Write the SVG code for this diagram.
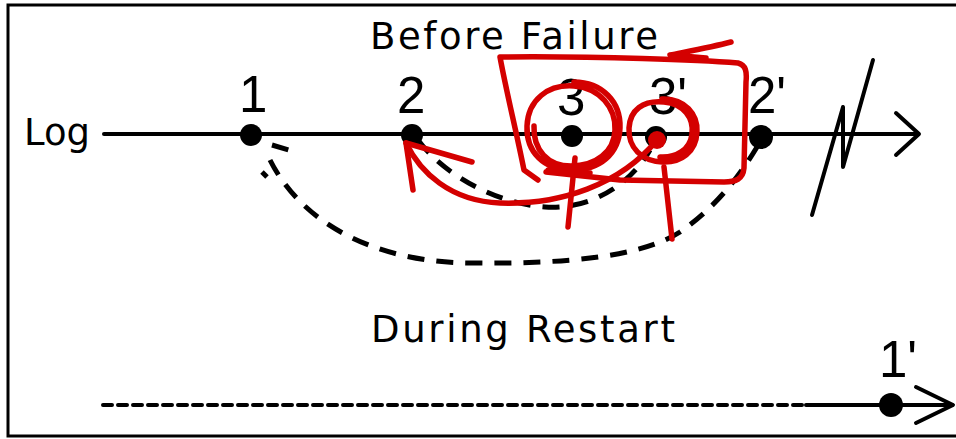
<svg xmlns="http://www.w3.org/2000/svg" width="956" height="439" viewBox="0 0 956 439">
<style>
.t{font-family:"Liberation Sans","DejaVu Sans",Arial,sans-serif;fill:#000}
.lbl{font-family:"DejaVu Sans","Liberation Sans",sans-serif;font-size:37px}
.num{font-size:51px}
.ax{stroke:#000;stroke-width:4;fill:none;stroke-linecap:round;stroke-linejoin:round}
.dash{stroke:#000;stroke-width:5;fill:none;stroke-dasharray:17 12;stroke-linecap:butt}
.red{stroke:#d40000;stroke-width:5.5;fill:none;stroke-linecap:round;stroke-linejoin:round}
.dot{fill:#000}
</style>
<rect x="0" y="0" width="956" height="439" fill="#fff"/>
<rect x="8" y="5" width="960" height="431" fill="none" stroke="#000" stroke-width="3"/>

<g id="titles">
<text class="t lbl" x="370" y="49" textLength="288" lengthAdjust="spacing">Before Failure</text>
<text class="t lbl" x="371" y="342" textLength="304" lengthAdjust="spacing">During Restart</text>
<text class="t lbl" x="24" y="145" font-size="41" textLength="66" lengthAdjust="spacingAndGlyphs">Log</text>
</g>

<g id="connectors">
<line class="ax" x1="104" y1="134" x2="918" y2="134"/>
<polyline class="ax" points="896,113 919,134 896,155"/>
<polyline class="ax" points="812,215 843,107 843,167 873,60" stroke-width="3.5"/>
<path class="dash" d="M270,160 C 300,220 370,262 470,263 C 560,264 640,258 680,232 C 718,206 742,172 757,147"/>
<line class="dash" x1="272" y1="145" x2="289" y2="150" stroke-dasharray="none"/>
<line class="dash" x1="262" y1="172" x2="267" y2="177" stroke-dasharray="none"/>
<path class="dash" d="M418,140 C 440,170 490,203 545,207 C 590,210 630,185 650,150" stroke-dasharray="15 11"/>
<line class="ax" x1="103" y1="405" x2="806" y2="405" stroke-width="3.5" stroke-dasharray="9 6" stroke-linecap="butt"/>
<line class="ax" x1="806" y1="405" x2="952" y2="405"/>
<polyline class="ax" points="916,387 953,405 916,423"/>
</g>

<g id="n1"><circle class="dot" cx="251" cy="135" r="11"/><text class="t num" x="239" y="112">1</text></g>
<g id="n2"><circle class="dot" cx="412" cy="135" r="11"/><text class="t num" x="397" y="113">2</text></g>
<g id="n3"><circle class="dot" cx="572" cy="136" r="11"/><text class="t num" x="557" y="115">3</text></g>
<g id="n3p"><circle class="dot" cx="656" cy="137" r="11"/><text class="t num" x="649" y="114">3'</text></g>
<g id="n2p"><circle class="dot" cx="761" cy="137" r="12"/><text class="t num" x="748" y="113">2'</text></g>
<g id="n1p"><circle class="dot" cx="891" cy="405" r="12"/><text class="t num" x="879" y="377">1'</text></g>

<g id="annotations">
<path class="red" d="M538,180 L524,170 C 516,130 506,90 500,57 C 600,56 700,60 738,63 C 746,65 747,72 746,82 L 744,168 C 743,179 736,182 724,182 L 620,180 L 546,172"/>
<path class="red" d="M731,42 C 712,47 690,51 670,55 L 706,58"/>
<path class="red" d="M574,82 C 602,82 621,102 620,128 C 619,154 600,170 572,170 C 544,170 526,152 527,126 C 528,100 548,84 574,86 C 600,88 616,108 615,130 C 614,152 596,166 571,166 C 548,166 533,150 534,126"/>
<path class="red" d="M662,99 C 685,98 698,115 697,132 C 696,152 681,163 662,162 C 642,161 628,148 629,128 C 630,110 643,100 664,102 C 684,104 694,118 692,134 C 690,150 676,158 660,157"/>
<circle cx="657" cy="140" r="9" fill="#d40000"/>
<path class="red" d="M657,140 C 620,185 560,205 500,203 C 450,201 420,172 406,143"/>
<path class="red" d="M413,190 L406,143 L472,162"/>
<path class="red" d="M575,158 L568,227"/>
<path class="red" d="M664,167 L672,239"/>
<path class="red" d="M548,170 L590,173"/>
</g>
</svg>
